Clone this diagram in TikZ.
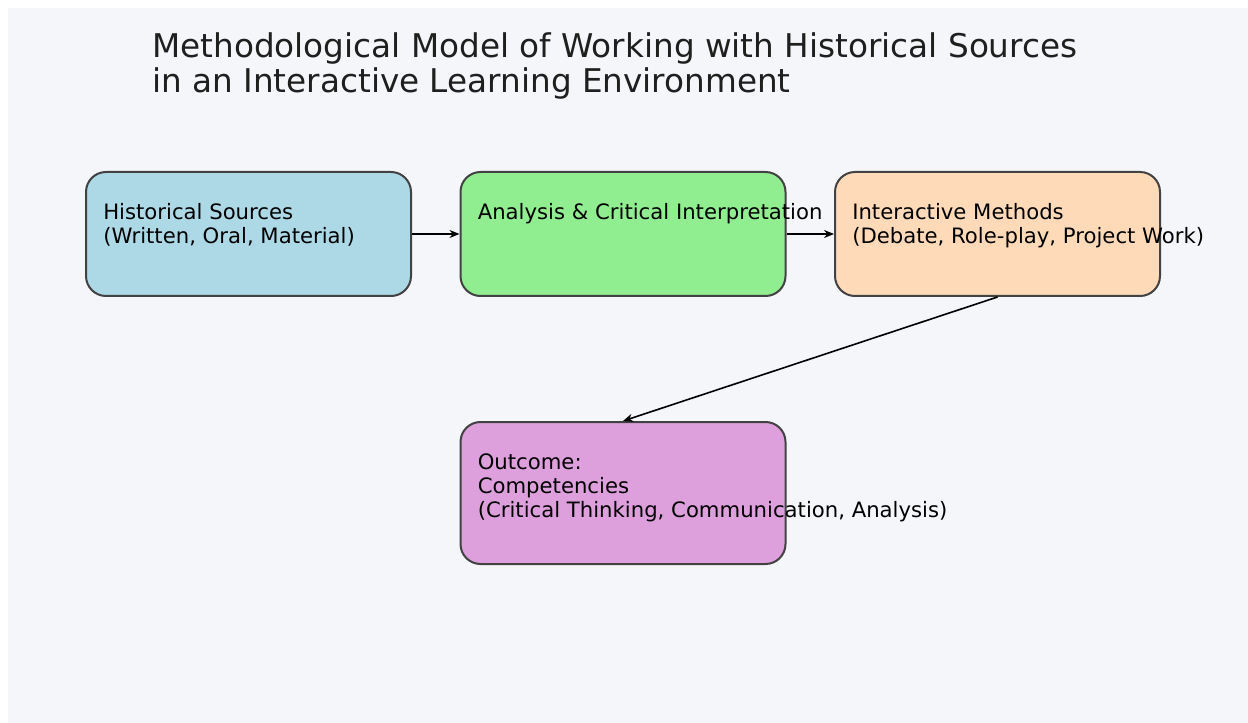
\documentclass[tikz,border=0pt]{standalone}
\usepackage{fontspec}
\setmainfont{DejaVu Sans}
\usetikzlibrary{arrows.meta}

\definecolor{panelbg}{HTML}{F5F6FA}
\definecolor{edgegray}{HTML}{424242}
\definecolor{srcblue}{HTML}{ADD8E6}
\definecolor{anagreen}{HTML}{90EE90}
\definecolor{methpeach}{HTML}{FFDAB9}
\definecolor{outplum}{HTML}{DDA0DD}

\begin{document}
\begin{tikzpicture}
        [x=0.75pt, y=-0.75pt,
        box/.style={draw=edgegray, line width=1.5pt, rounded corners=15pt,
          minimum width=243.75pt, minimum height=93pt, inner sep=0pt},
        boxtext/.style={anchor=north west, align=left, inner sep=0pt,
          font=\fontsize{15.9}{18.2}\selectfont},
        titletext/.style={anchor=north west, align=left, inner sep=0pt,
          text=black!88, font=\fontsize{24.5}{26.3}\selectfont},
        arr/.style={-{Stealth[length=7.5pt, width=6pt]}, line width=1.2pt, black}]

    \useasboundingbox (0,0) rectangle (1248,723);
    \fill[panelbg] (8,8) rectangle (1248,723);

    \node[titletext] (title) at (152,32)
      {Methodological Model of Working with Historical Sources\\
       in an Interactive Learning Environment};

    \begin{scope}
      \node[box, fill=srcblue] (src) at (248.5,234) {};
      \node[box, fill=anagreen] (ana) at (623,234) {};
      \node[box, fill=methpeach] (meth) at (997.5,234) {};
      \node[box, fill=outplum, minimum height=106.5pt] (out) at (623,493) {};
    \end{scope}

    \node[boxtext] (srctxt) at ([xshift=18pt*0.75, yshift=-32pt*0.75]src.north west)
      {Historical Sources\\(Written, Oral, Material)};
    \node[boxtext] (anatxt) at ([xshift=18pt*0.75, yshift=-32pt*0.75]ana.north west)
      {Analysis \& Critical Interpretation};
    \node[boxtext] (methtxt) at ([xshift=18pt*0.75, yshift=-32pt*0.75]meth.north west)
      {Interactive Methods\\(Debate, Role-play, Project Work)};
    \node[boxtext] (outtxt) at ([xshift=18pt*0.75, yshift=-32pt*0.75]out.north west)
      {Outcome:\\Competencies\\(Critical Thinking, Communication, Analysis)};

    \draw[arr] (src) -- (ana);
    \draw[arr] (ana) -- (meth);
    \draw[arr] (meth.south) -- (out.north);
\end{tikzpicture}
\end{document}
